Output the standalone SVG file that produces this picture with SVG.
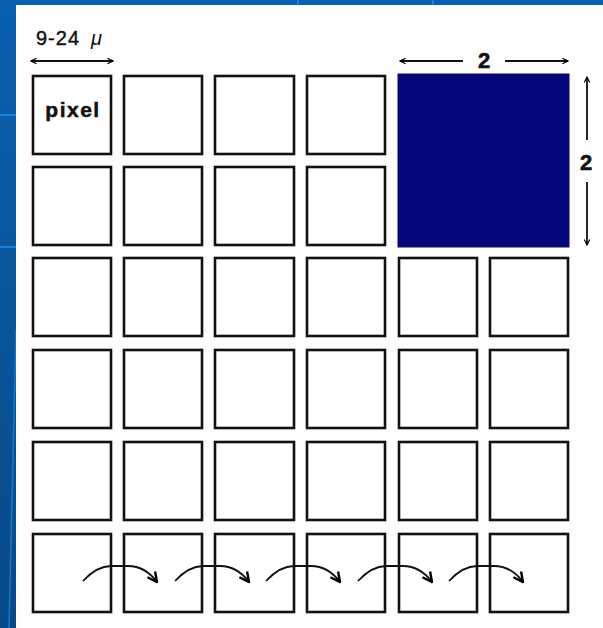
<svg xmlns="http://www.w3.org/2000/svg" width="603" height="628" viewBox="0 0 603 628">
<defs>
<linearGradient id="bg" x1="0" y1="0" x2="0" y2="1">
<stop offset="0" stop-color="#0a60ae"/>
<stop offset="1" stop-color="#084a88"/>
</linearGradient>
<marker id="dim" viewBox="0 0 10 10" refX="9" refY="5" markerWidth="7" markerHeight="7" markerUnits="userSpaceOnUse" orient="auto-start-reverse">
<path d="M1,1 L9,5 L1,9" fill="none" stroke="#000" stroke-width="1.6"/>
</marker>
<marker id="curv" viewBox="0 0 10 10" refX="9" refY="5" markerWidth="12" markerHeight="12" markerUnits="userSpaceOnUse" orient="auto">
<path d="M1,1 L9,5 L1,9" fill="none" stroke="#000" stroke-width="2"/>
</marker>
</defs>
<style>
.px{fill:#fff;stroke:#111;stroke-width:2.6}
.big{fill:#06067a;stroke:#0a0a60;stroke-width:1}
.lbl{font-family:"Liberation Sans",Arial,sans-serif;fill:#111}
.dimline{stroke:#111;stroke-width:1.8;fill:none}
.hop{stroke:#111;stroke-width:1.8;fill:none;marker-end:url(#curv)}
</style>
<rect x="0" y="0" width="603" height="628" fill="url(#bg)"/>
<line x1="0" y1="115" x2="16" y2="115" stroke="#1a80d8" stroke-width="2"/>
<line x1="0" y1="247" x2="16" y2="247" stroke="#1a80d8" stroke-width="2"/>
<line x1="16" y1="330" x2="9" y2="628" stroke="#1a78c8" stroke-width="1.5"/>
<line x1="298" y1="0" x2="298" y2="5" stroke="#1a80d8" stroke-width="2"/>
<line x1="433" y1="0" x2="433" y2="5" stroke="#1a80d8" stroke-width="2"/>
<rect x="16" y="5" width="587" height="623" fill="#fdfdfd"/>

<g id="dimension-pixel">
<text class="lbl" x="36" y="45" font-size="20" letter-spacing="1" stroke="#111" stroke-width="0.4">9-24</text>
<text class="lbl" x="91" y="45" font-size="20" font-style="italic">μ</text>
<line class="dimline" x1="31" y1="61" x2="113" y2="61" marker-start="url(#dim)" marker-end="url(#dim)"/>
</g>
<g id="dimension-width">
<line class="dimline" x1="400" y1="61" x2="463" y2="61" marker-start="url(#dim)"/>
<line class="dimline" x1="505" y1="61" x2="568" y2="61" marker-end="url(#dim)"/>
<text class="lbl" x="484" y="68" font-size="22" font-weight="bold" text-anchor="middle" stroke="#111" stroke-width="0.6">2</text>
</g>
<g id="dimension-height">
<line class="dimline" x1="587" y1="77" x2="587" y2="140" marker-start="url(#dim)"/>
<line class="dimline" x1="587" y1="182" x2="587" y2="245" marker-end="url(#dim)"/>
<text class="lbl" x="586" y="170" font-size="22" font-weight="bold" text-anchor="middle" stroke="#111" stroke-width="0.6">2</text>
</g>

<g id="pixel-r1c1"><rect class="px" x="33" y="76" width="78" height="78"/>
<text class="lbl" x="73" y="117" font-size="21" font-weight="bold" text-anchor="middle" letter-spacing="1.5" stroke="#111" stroke-width="0.5">pixel</text></g>
<g id="pixel-r1c2"><rect class="px" x="124" y="76" width="78" height="78"/></g>
<g id="pixel-r1c3"><rect class="px" x="215" y="76" width="79" height="78"/></g>
<g id="pixel-r1c4"><rect class="px" x="307" y="76" width="78" height="78"/></g>
<g id="superpixel"><rect class="big" x="398" y="74" width="171" height="173"/></g>

<g id="pixel-r2c1"><rect class="px" x="33" y="167" width="78" height="78"/></g>
<g id="pixel-r2c2"><rect class="px" x="124" y="167" width="78" height="78"/></g>
<g id="pixel-r2c3"><rect class="px" x="215" y="167" width="79" height="78"/></g>
<g id="pixel-r2c4"><rect class="px" x="307" y="167" width="78" height="78"/></g>

<g id="pixel-r3c1"><rect class="px" x="33" y="258" width="78" height="78"/></g>
<g id="pixel-r3c2"><rect class="px" x="124" y="258" width="78" height="78"/></g>
<g id="pixel-r3c3"><rect class="px" x="215" y="258" width="79" height="78"/></g>
<g id="pixel-r3c4"><rect class="px" x="307" y="258" width="78" height="78"/></g>
<g id="pixel-r3c5"><rect class="px" x="399" y="258" width="78" height="78"/></g>
<g id="pixel-r3c6"><rect class="px" x="490" y="258" width="78" height="78"/></g>

<g id="pixel-r4c1"><rect class="px" x="33" y="350" width="78" height="78"/></g>
<g id="pixel-r4c2"><rect class="px" x="124" y="350" width="78" height="78"/></g>
<g id="pixel-r4c3"><rect class="px" x="215" y="350" width="79" height="78"/></g>
<g id="pixel-r4c4"><rect class="px" x="307" y="350" width="78" height="78"/></g>
<g id="pixel-r4c5"><rect class="px" x="399" y="350" width="78" height="78"/></g>
<g id="pixel-r4c6"><rect class="px" x="490" y="350" width="78" height="78"/></g>

<g id="pixel-r5c1"><rect class="px" x="33" y="442" width="78" height="78"/></g>
<g id="pixel-r5c2"><rect class="px" x="124" y="442" width="78" height="78"/></g>
<g id="pixel-r5c3"><rect class="px" x="215" y="442" width="79" height="78"/></g>
<g id="pixel-r5c4"><rect class="px" x="307" y="442" width="78" height="78"/></g>
<g id="pixel-r5c5"><rect class="px" x="399" y="442" width="78" height="78"/></g>
<g id="pixel-r5c6"><rect class="px" x="490" y="442" width="78" height="78"/></g>

<g id="pixel-r6c1"><rect class="px" x="33" y="534" width="78" height="78"/></g>
<g id="pixel-r6c2"><rect class="px" x="124" y="534" width="78" height="78"/></g>
<g id="pixel-r6c3"><rect class="px" x="215" y="534" width="79" height="78"/></g>
<g id="pixel-r6c4"><rect class="px" x="307" y="534" width="78" height="78"/></g>
<g id="pixel-r6c5"><rect class="px" x="399" y="534" width="78" height="78"/></g>
<g id="pixel-r6c6"><rect class="px" x="490" y="534" width="78" height="78"/></g>

<g id="connectors">
<path class="hop" d="M83,581 Q97,566 111,566 L128,566 Q145,566 157,582"/>
<path class="hop" d="M175,581 Q189,566 203,566 L220,566 Q237,566 249,582"/>
<path class="hop" d="M266,581 Q280,566 294,566 L311,566 Q328,566 340,582"/>
<path class="hop" d="M358,581 Q372,566 386,566 L403,566 Q420,566 432,582"/>
<path class="hop" d="M449,581 Q463,566 477,566 L494,566 Q511,566 523,582"/>
</g>
</svg>
